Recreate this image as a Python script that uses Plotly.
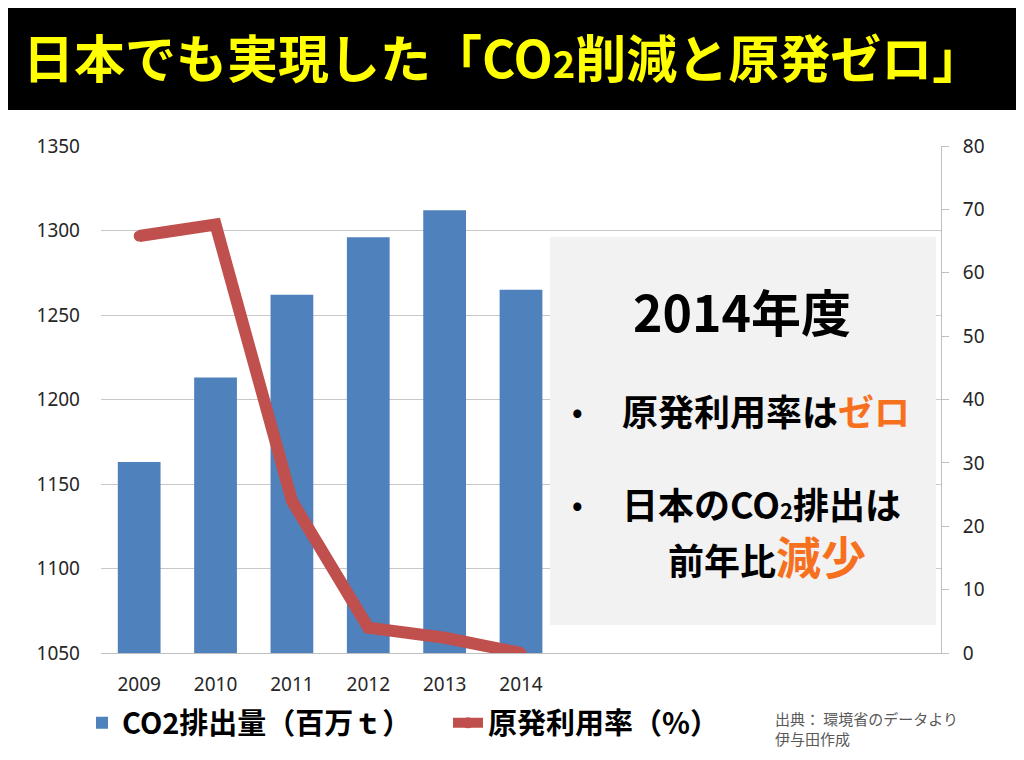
import plotly.graph_objects as go

years = [2009, 2010, 2011, 2012, 2013, 2014]
co2_emissions = [1163, 1213, 1262, 1296, 1312, 1265]
nuclear_rate = [65.8, 67.6, 24.0, 4.0, 2.4, 0.0]

left_ticks = [1050, 1100, 1150, 1200, 1250, 1300, 1350]
right_ticks = [0, 10, 20, 30, 40, 50, 60, 70, 80]

OFF = 8  # page body margin
W, H = 1024 - OFF, 760 - OFF
L, R, T, B = 101, 941, 146, 653  # plot area in page pixels


def px(x):
    return (x - L) / (R - L)


def py(y):
    return (B - y) / (B - T)


JP = "Noto Sans CJK JP"
NUM = "Noto Sans"
BLUE = "#4F81BD"
RED = "#C0504D"
ORANGE = "#F7701E"

fig = go.Figure()
fig.add_trace(go.Bar(
    x=years, y=co2_emissions, width=0.56, marker=dict(color=BLUE, line=dict(width=0)),
    name="<b>CO2排出量（百万ｔ）</b>", legend="legend",
))
fig.add_trace(go.Scatter(
    x=years, y=nuclear_rate, yaxis="y2", mode="lines+markers",
    line=dict(color=RED, width=12), marker=dict(color=RED, size=11),
    name="<b>原発利用率（%）</b>", legend="legend2",
))

axis_font = dict(family=NUM, size=19, color="#262626")
fig.update_layout(
    width=W, height=H,
    margin=dict(l=L - OFF, r=W - (R - OFF), t=T - OFF, b=H - (B - OFF), pad=0),
    paper_bgcolor="white", plot_bgcolor="white",
    font=dict(family=JP),
    xaxis=dict(
        range=[2008.5, 2019.5], tickvals=years, ticktext=[str(y) for y in years],
        showgrid=False, zeroline=False, showline=True, linecolor="#BFBFBF", linewidth=1,
        ticks="", tickfont=axis_font, ticklabelstandoff=14,
    ),
    yaxis=dict(
        range=[1050, 1350], tickvals=left_ticks, showgrid=True, gridcolor="#C8C8C8",
        gridwidth=1, zeroline=False, showline=False, ticks="", tickfont=axis_font,
        ticklabelstandoff=20,
    ),
    yaxis2=dict(
        range=[0, 80], tickvals=right_ticks, overlaying="y", side="right",
        showgrid=False, zeroline=False, showline=True, linecolor="#BFBFBF", linewidth=1,
        ticks="outside", ticklen=7, tickcolor="#BFBFBF", tickfont=axis_font,
        ticklabelstandoff=10,
    ),
    legend=dict(
        x=px(82), y=py(723), xanchor="left", yanchor="middle", orientation="h",
        font=dict(family=JP, size=29, color="#000000"), bgcolor="rgba(0,0,0,0)",
    ),
    legend2=dict(
        x=px(448), y=py(723), xanchor="left", yanchor="middle", orientation="h",
        font=dict(family=JP, size=29, color="#000000"), bgcolor="rgba(0,0,0,0)",
    ),
    showlegend=True,
)

# title bar
fig.add_shape(type="rect", xref="paper", yref="paper",
              x0=px(OFF), x1=px(1019), y0=py(110), y1=py(OFF),
              fillcolor="#000000", line=dict(width=0), layer="above")
# info box
fig.add_shape(type="rect", xref="paper", yref="paper",
              x0=px(550), x1=px(936), y0=py(625), y1=py(237),
              fillcolor="#F2F2F2", line=dict(width=0), layer="above")

ann = []
ann.append(dict(text="<b>日本でも実現した「CO<span style='font-size:38px'>2</span>削減と原発ゼロ」</b>",
                x=px(503), y=py(56), xanchor="center", yanchor="middle",
                font=dict(family=JP, size=51, color="#FFFF00")))
ann.append(dict(text="<b>2014年度</b>", x=px(742), y=py(310), xanchor="center", yanchor="middle",
                font=dict(family=JP, size=50, color="#000000")))
ann.append(dict(text="<b>•</b>", x=px(577), y=py(410), xanchor="center", yanchor="middle",
                font=dict(family=JP, size=28, color="#000000")))
ann.append(dict(text=f"<b>原発利用率は<span style='color:{ORANGE}'>ゼロ</span></b>",
                x=px(620), y=py(410), xanchor="left", yanchor="middle",
                font=dict(family=JP, size=36, color="#000000")))
ann.append(dict(text="<b>•</b>", x=px(577), y=py(503), xanchor="center", yanchor="middle",
                font=dict(family=JP, size=28, color="#000000")))
ann.append(dict(text="<b>日本のCO<span style='font-size:22px'>2</span>排出は</b>",
                x=px(620), y=py(503), xanchor="left", yanchor="middle",
                font=dict(family=JP, size=36, color="#000000")))
ann.append(dict(text=f"<b>前年比<span style='font-size:45px;color:{ORANGE}'>減少</span></b>",
                x=px(767), y=py(555), xanchor="center", yanchor="middle",
                font=dict(family=JP, size=36, color="#000000")))
ann.append(dict(text="出典： 環境省のデータより<br>伊与田作成",
                x=px(773), y=py(729), xanchor="left", yanchor="middle", align="left",
                font=dict(family=JP, size=15, color="#595959")))
for a in ann:
    a.update(xref="paper", yref="paper", showarrow=False)
fig.update_layout(annotations=ann)

fig.write_html("out.html")
